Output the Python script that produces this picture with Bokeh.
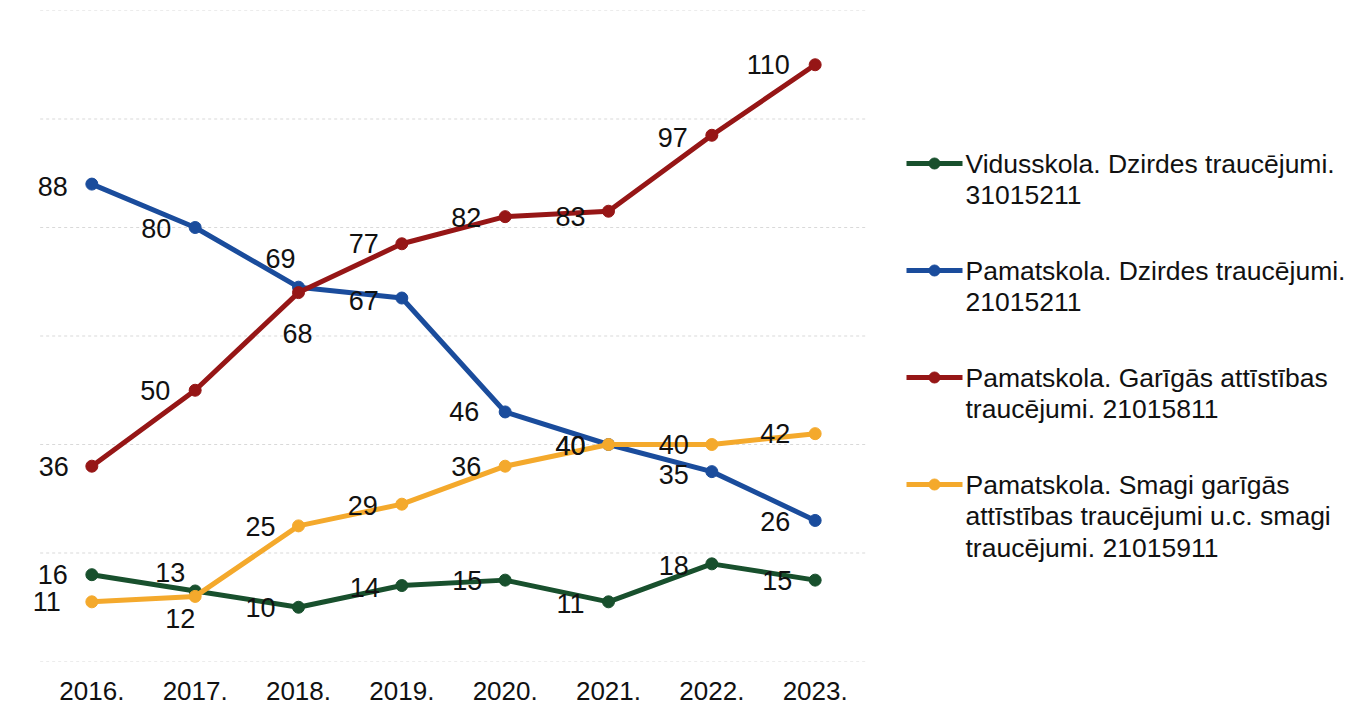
from bokeh.plotting import figure
from bokeh.models import ColumnDataSource, Range1d, FactorRange
from bokeh.layouts import row
from bokeh.transform import dodge
from bokeh.core.properties import value
from bokeh.embed import file_html
from bokeh.resources import INLINE

years = ["2016.", "2017.", "2018.", "2019.", "2020.", "2021.", "2022.", "2023."]
vidus_dzirdes = [16, 13, 10, 14, 15, 11, 18, 15]
pamat_dzirdes = [88, 80, 69, 67, 46, 40, 35, 26]
pamat_garigas = [36, 50, 68, 77, 82, 83, 97, 110]
pamat_smagi = [11, 12, 25, 29, 36, 40, 40, 42]
grid_values = [0, 20, 40, 60, 80, 100, 120]

series_names = [
    ["Vidusskola. Dzirdes traucējumi.", "31015211"],
    ["Pamatskola. Dzirdes traucējumi.", "21015211"],
    ["Pamatskola. Garīgās attīstības", "traucējumi. 21015811"],
    ["Pamatskola. Smagi garīgās", "attīstības traucējumi u.c. smagi", "traucējumi. 21015911"],
]
series_values = [vidus_dzirdes, pamat_dzirdes, pamat_garigas, pamat_smagi]
colors = ["#18502d", "#1a4c9c", "#961616", "#f4a92c"]

# label placement (pixel offsets from each point), style only
label_offsets = [
    [(-39, 0), (-25, -18), (-38, 0), (-37, 2), (-38, 0), (-38, 2), (-38, 2), (-38, 0)],
    [(-39, 2), (-39, 1), (-18, -29), (-38, 2), (-41, 0), (-38, 1), (-38, 3), (-40, 1)],
    [(-38, 0), (-40, 0), (-1, 41), (-38, 0), (-39, 1), (-38, 5), (-39, 2), (-47, 0)],
    [(-45, 0), (-15, 22), (-38, 1), (-39, 1), (-39, 0), (-38, 1), (-38, 0), (-40, 0)],
]

FONT = "Liberation Sans"

xr = FactorRange(*years, range_padding=0.2, range_padding_units="absolute")
p = figure(
    x_range=xr,
    y_range=Range1d(0, 120),
    width=892, height=708,
    output_backend="svg", toolbar_location=None,
    min_border_left=19, min_border_right=5, min_border_top=10, min_border_bottom=47,
)
p.outline_line_color = None
p.background_fill_color = "white"
p.border_fill_color = "white"
p.yaxis.visible = False
p.grid.visible = False
p.xaxis.axis_line_color = None
p.xaxis.major_tick_line_color = None
p.xaxis.minor_tick_line_color = None
p.xaxis.major_label_text_font = FONT
p.xaxis.major_label_text_font_size = "26px"
p.xaxis.major_label_text_color = "#111111"
p.xaxis.major_label_standoff = 14

# horizontal gridlines spanning the category band
gsrc = ColumnDataSource(dict(
    x0=[years[0]] * len(grid_values), x1=[years[-1]] * len(grid_values),
    y=grid_values,
))
p.segment(x0=dodge("x0", -0.5, range=xr), x1=dodge("x1", 0.5, range=xr),
          y0="y", y1="y", source=gsrc, line_color="#d9d9d9", line_width=1,
          line_dash="3 3")

for vals, col in zip(series_values, colors):
    src = ColumnDataSource(dict(x=years, y=vals))
    p.line("x", "y", source=src, line_color=col, line_width=5)
    p.scatter("x", "y", source=src, size=12, fill_color=col, line_color=col)

for vals, offs in zip(series_values, label_offsets):
    src = ColumnDataSource(dict(
        x=years, y=vals, t=[str(v) for v in vals],
        dx=[o[0] for o in offs], dy=[o[1] for o in offs],
    ))
    p.text("x", "y", text="t", source=src, x_offset="dx", y_offset="dy",
           text_align="center", text_baseline="middle",
           text_font=value(FONT), text_font_size="27px", text_color="#111111")

# legend panel (frame aligned with chart frame: data y == page y)
leg = figure(
    x_range=Range1d(0, 459), y_range=Range1d(661, 10),
    width=459, height=708, output_backend="svg", toolbar_location=None,
    min_border=0, min_border_left=0, min_border_right=0, min_border_top=10, min_border_bottom=47,
)
leg.axis.visible = False
leg.grid.visible = False
leg.outline_line_color = None

entry_tops = [163, 270, 377, 484]
line_gap = 31.5
for names, col, top in zip(series_names, colors, entry_tops):
    leg.line([14, 70], [top, top], line_color=col, line_width=5)
    leg.scatter([42], [top], size=11, fill_color=col, line_color=col)
    ys = [top + i * line_gap for i in range(len(names))]
    leg.text([73] * len(names), ys, text=names, text_align="left", text_baseline="middle",
             text_font=value(FONT), text_font_size="26.5px", text_color="#111111")

layout = row(p, leg)
open("out.html", "w").write(file_html(layout, INLINE))
